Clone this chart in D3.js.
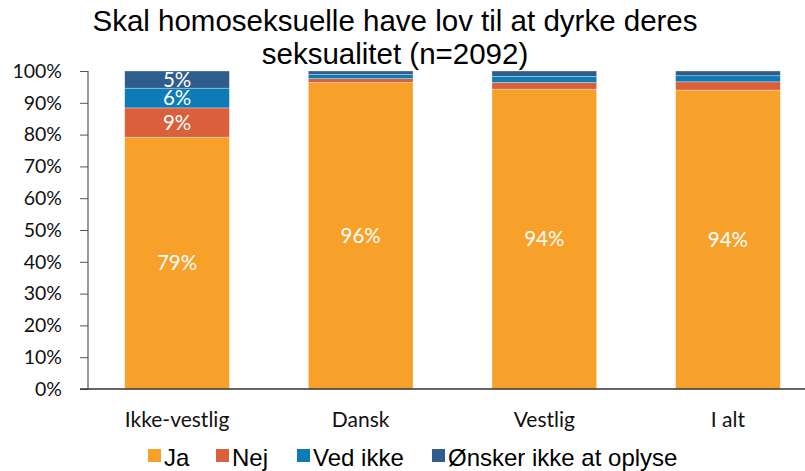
<!DOCTYPE html>
<html><head><meta charset="utf-8">
<script src="https://cdn.jsdelivr.net/npm/d3@7"></script>
<style>body{margin:0;background:#fff}</style>
</head><body>
<script>
const categories = ["Ikke-vestlig", "Dansk", "Vestlig", "I alt"];
const seriesNames = ["Ja", "Nej", "Ved ikke", "Ønsker ikke at oplyse"];
const ja = [79.2, 96.4, 94.3, 94.0];
const nej = [9.2, 1.2, 2.1, 2.6];
const vedIkke = [6.2, 1.3, 1.9, 1.9];
const oensker = [5.4, 1.1, 1.7, 1.5];
const labelJa = ["79%", "96%", "94%", "94%"];
const labelNej = ["9%", "", "", ""];
const labelVed = ["6%", "", "", ""];
const labelOen = ["5%", "", "", ""];
const yTicks = [0, 10, 20, 30, 40, 50, 60, 70, 80, 90, 100];
const colors = ["#F8A12A", "#D9603A", "#0C7BB6", "#2F5E8C"];

const W = 805, H = 471;
const svg = d3.select("body").append("svg").attr("width", W).attr("height", H);

const x = d3.scaleBand().domain(categories).range([88, 817]).paddingInner(0.43).paddingOuter(0.2);
const y = d3.scaleLinear().domain([0, 100]).range([389, 71]);

const rows = categories.map((c, i) => ({cat: c, "Ja": ja[i], "Nej": nej[i], "Ved ikke": vedIkke[i], "Ønsker ikke at oplyse": oensker[i]}));
const labels = [labelJa, labelNej, labelVed, labelOen];
const stack = d3.stack().keys(seriesNames)(rows);

const g = svg.append("g");
stack.forEach((s, si) => {
  g.selectAll(null).data(s).enter().append("rect")
    .attr("x", d => x(d.data.cat))
    .attr("width", x.bandwidth())
    .attr("y", d => y(d[1]))
    .attr("height", d => y(d[0]) - y(d[1]))
    .attr("fill", colors[si])
    .attr("stroke", "rgba(255,255,255,0.5)")
    .attr("stroke-width", 0.6);
  g.selectAll(null).data(s).enter().append("text")
    .attr("x", d => x(d.data.cat) + x.bandwidth() / 2)
    .attr("y", d => (y(d[0]) + y(d[1])) / 2)
    .attr("dy", "0.36em")
    .attr("text-anchor", "middle")
    .attr("fill", "#fff")
    .attr("font-family", "Lato, 'Open Sans', sans-serif")
    .attr("font-size", 20.5)
    .text((d, i) => labels[si][i]);
});

// y axis
const yAxis = d3.axisLeft(y).tickValues(yTicks).tickFormat(d => d + "%").tickSize(8).tickPadding(18);
const ya = svg.append("g").attr("transform", "translate(88,0)").call(yAxis);
ya.select(".domain").attr("stroke", "#555").attr("stroke-width", 1.2).attr("d", "M0,71V389");
ya.selectAll(".tick line").attr("stroke", "#555");
ya.selectAll("text").attr("font-family", "Lato, 'Open Sans', sans-serif").attr("font-size", 19.5).attr("fill", "#111");

// x axis
const xAxis = d3.axisBottom(x).tickSize(0).tickPadding(23);
const xa = svg.append("g").attr("transform", "translate(0,389)").call(xAxis);
xa.select(".domain").attr("stroke", "#333").attr("stroke-width", 1.5).attr("d", "M80,0H805");
xa.selectAll("text").attr("font-family", "Lato, 'Open Sans', sans-serif").attr("font-size", 21).attr("fill", "#111");

// title
const title = svg.append("text").attr("text-anchor", "middle")
  .attr("font-family", "'Liberation Sans', Arial, sans-serif").attr("font-size", 29.5).attr("fill", "#000");
title.append("tspan").attr("x", 395).attr("y", 31).text("Skal homoseksuelle have lov til at dyrke deres");
title.append("tspan").attr("x", 395).attr("y", 64).text("seksualitet (n=2092)");

// legend
const legendX = [148, 216, 297, 432];
const leg = svg.append("g");
seriesNames.forEach((n, i) => {
  leg.append("rect").attr("x", legendX[i]).attr("y", 449).attr("width", 13).attr("height", 13).attr("fill", colors[i]);
  leg.append("text").attr("x", legendX[i] + 16).attr("y", 466)
    .attr("font-family", "'Liberation Sans', Arial, sans-serif").attr("font-size", 24).attr("fill", "#000").text(n);
});
</script>
</body></html>
